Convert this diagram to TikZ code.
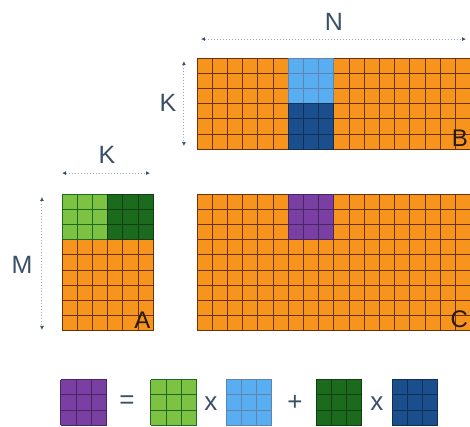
\documentclass[tikz,border=0pt]{standalone}
\usepackage{fontspec}
\setmainfont{Liberation Sans}
\usetikzlibrary{arrows.meta, positioning, calc}
\definecolor{matorange}{HTML}{F7941E}
\definecolor{gridbrown}{HTML}{6A3206}
\definecolor{lblue}{HTML}{59AEF2}
\definecolor{dblue}{HTML}{1B4E8C}
\definecolor{lgreen}{HTML}{7DC242}
\definecolor{dgreen}{HTML}{1B6A1E}
\definecolor{tilepurple}{HTML}{7A3FA3}
\definecolor{labelblue}{HTML}{3A5068}
\definecolor{dimgray}{HTML}{9AAABB}
\tikzset{
  tilegrid/.style={draw=gridbrown, line width=1pt, step=1},
  dimline/.style={dimgray, dotted, line width=1pt, {Latex[length=4pt,width=4pt,labelblue]}-{Latex[length=4pt,width=4pt,labelblue]}},
  dimlabel/.style={text=labelblue, font=\fontsize{25}{28}\selectfont},
  matlabel/.style={text=black!80!brown, font=\fontsize{24}{28}\selectfont, anchor=south east, inner sep=1pt},
  oplabel/.style={text=labelblue, font=\fontsize{26}{28}\selectfont}
}
\begin{document}
\begin{tikzpicture}[x=15.2pt, y=15.2pt, line join=round]
      \useasboundingbox (0,0) rectangle (30.92,28.03);
      % matrix B
      \begin{scope}[shift={(12.96,18.21)}]
        \fill[matorange] (0,0) rectangle (18,6);
        \draw[tilegrid] (0,0) grid (18,6);
        \fill[lblue] (6,3) rectangle (9,6);
        \draw[tilegrid, draw=dblue!70] (6,3) grid (9,6);
        \fill[dblue] (6,0) rectangle (9,3);
        \draw[tilegrid, draw=dblue!60!black] (6,0) grid (9,3);
        \node[matlabel] (labB) at (17.9,0.1) {B};
      \end{scope}
      % matrix A
      \begin{scope}[shift={(4.08,6.26)}]
        \fill[matorange] (0,0) rectangle (6,9);
        \draw[tilegrid] (0,0) grid (6,9);
        \fill[lgreen] (0,6) rectangle (3,9);
        \draw[tilegrid, draw=dgreen] (0,6) grid (3,9);
        \fill[dgreen] (3,6) rectangle (6,9);
        \draw[tilegrid, draw=dgreen!60!black] (3,6) grid (6,9);
        \node[matlabel] (labA) at (5.9,0.1) {A};
      \end{scope}
      % matrix C
      \begin{scope}[shift={(12.96,6.26)}]
        \fill[matorange] (0,0) rectangle (18,9);
        \draw[tilegrid] (0,0) grid (18,9);
        \fill[tilepurple] (6,6) rectangle (9,9);
        \draw[tilegrid, draw=tilepurple!60!black] (6,6) grid (9,9);
        \node[matlabel] (labC) at (17.9,0.1) {C};
      \end{scope}
      % dimensions
      \coordinate (n1) at (13.22,25.46);
      \coordinate (n2) at (30.66,25.46);
      \draw[dimline] (n1) -- (n2);
      \node[dimlabel] (labN) at (21.97,26.62) {N};
      \coordinate (kb1) at (12.1,24.01);
      \coordinate (kb2) at (12.1,18.42);
      \draw[dimline] (kb1) -- (kb2);
      \node[dimlabel] (labKB) at (11.05,21.25) {K};
      \coordinate (ka1) at (4.08,16.64);
      \coordinate (ka2) at (9.87,16.64);
      \draw[dimline] (ka1) -- (ka2);
      \node[dimlabel] (labKA) at (7.04,17.83) {K};
      \coordinate (m1) at (2.76,15.07);
      \coordinate (m2) at (2.76,6.32);
      \draw[dimline] (m1) -- (m2);
      \node[dimlabel] (labM) at (1.45,10.6) {M};
      % tile equation
      \begin{scope}[shift={(4.01,0.05)}]
        \fill[tilepurple] (0,0) rectangle (3,3);
        \draw[tilegrid, draw=tilepurple!60!black] (0,0) grid (3,3);
      \end{scope}
      \node[oplabel] (eq) at (8.36,1.55) {=};
      \begin{scope}[shift={(9.93,0.05)}]
        \fill[lgreen] (0,0) rectangle (3,3);
        \draw[tilegrid, draw=dgreen] (0,0) grid (3,3);
      \end{scope}
      \node[oplabel] (times1) at (13.88,1.5) {x};
      \begin{scope}[shift={(14.87,0.05)}]
        \fill[lblue] (0,0) rectangle (3,3);
        \draw[tilegrid, draw=dblue!70] (0,0) grid (3,3);
      \end{scope}
      \node[oplabel] (plus) at (19.41,1.55) {+};
      \begin{scope}[shift={(20.79,0.05)}]
        \fill[dgreen] (0,0) rectangle (3,3);
        \draw[tilegrid, draw=dgreen!60!black] (0,0) grid (3,3);
      \end{scope}
      \node[oplabel] (times2) at (24.8,1.5) {x};
      \begin{scope}[shift={(25.79,0.05)}]
        \fill[dblue] (0,0) rectangle (3,3);
        \draw[tilegrid, draw=dblue!60!black] (0,0) grid (3,3);
      \end{scope}
    \end{tikzpicture}
\end{document}
